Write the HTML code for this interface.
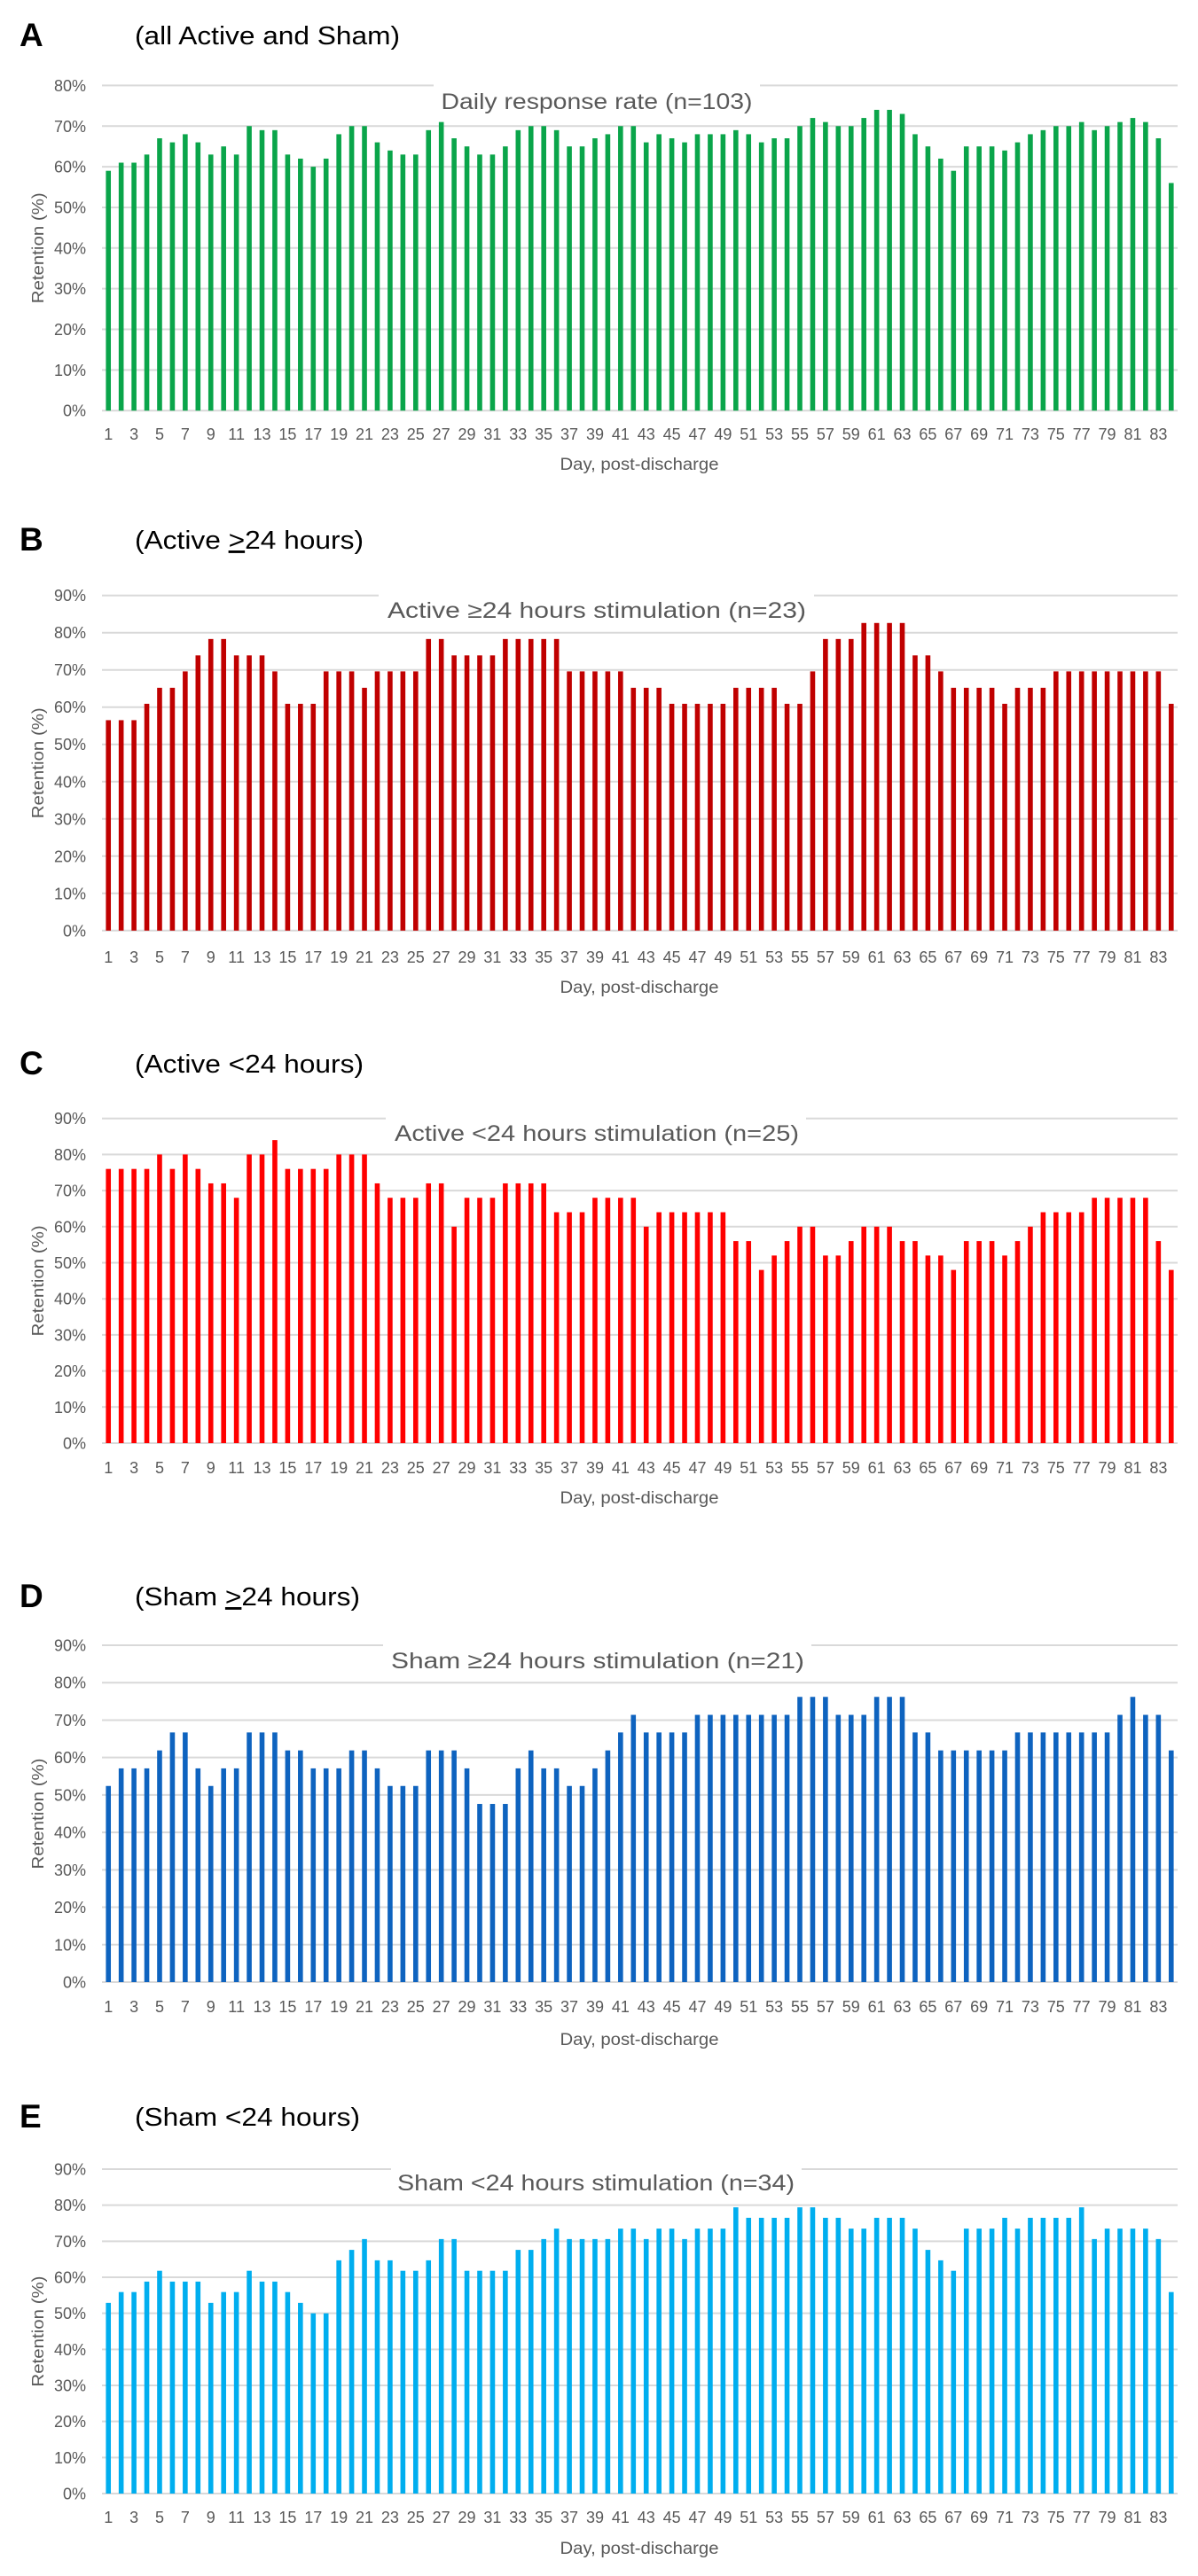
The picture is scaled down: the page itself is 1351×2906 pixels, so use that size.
<!DOCTYPE html>
<html><head><meta charset="utf-8">
<style>
html,body{margin:0;padding:0;background:#fff;}
svg{display:block;}
text{font-family:"Liberation Sans",sans-serif;}
</style></head>
<body>
<svg id="fig" width="1351" height="2906" viewBox="0 0 1351 2906" xmlns="http://www.w3.org/2000/svg"></svg>
<script>
// ---- data ----
const days = [1,2,3,4,5,6,7,8,9,10,11,12,13,14,15,16,17,18,19,20,21,22,23,24,25,26,27,28,29,30,31,32,33,34,35,36,37,38,39,40,41,42,43,44,45,46,47,48,49,50,51,52,53,54,55,56,57,58,59,60,61,62,63,64,65,66,67,68,69,70,71,72,73,74,75,76,77,78,79,80,81,82,83,84];
const xTickLabels = [1,3,5,7,9,11,13,15,17,19,21,23,25,27,29,31,33,35,37,39,41,43,45,47,49,51,53,55,57,59,61,63,65,67,69,71,73,75,77,79,81,83];
const yTicksA = [0,10,20,30,40,50,60,70,80];
const yTicksBE = [0,10,20,30,40,50,60,70,80,90];
const valuesAll = [59,61,61,63,67,66,68,66,63,65,63,70,69,69,63,62,60,62,68,70,70,66,64,63,63,69,71,67,65,63,63,65,69,70,70,69,65,65,67,68,70,70,66,68,67,66,68,68,68,69,68,66,67,67,70,72,71,70,70,72,74,74,73,68,65,62,59,65,65,65,64,66,68,69,70,70,71,69,70,71,72,71,67,56];
const valuesActiveLong = [56.5,56.5,56.5,60.9,65.2,65.2,69.6,73.9,78.3,78.3,73.9,73.9,73.9,69.6,60.9,60.9,60.9,69.6,69.6,69.6,65.2,69.6,69.6,69.6,69.6,78.3,78.3,73.9,73.9,73.9,73.9,78.3,78.3,78.3,78.3,78.3,69.6,69.6,69.6,69.6,69.6,65.2,65.2,65.2,60.9,60.9,60.9,60.9,60.9,65.2,65.2,65.2,65.2,60.9,60.9,69.6,78.3,78.3,78.3,82.6,82.6,82.6,82.6,73.9,73.9,69.6,65.2,65.2,65.2,65.2,60.9,65.2,65.2,65.2,69.6,69.6,69.6,69.6,69.6,69.6,69.6,69.6,69.6,60.9];
const valuesActiveShort = [76,76,76,76,80,76,80,76,72,72,68,80,80,84,76,76,76,76,80,80,80,72,68,68,68,72,72,60,68,68,68,72,72,72,72,64,64,64,68,68,68,68,60,64,64,64,64,64,64,56,56,48,52,56,60,60,52,52,56,60,60,60,56,56,52,52,48,56,56,56,52,56,60,64,64,64,64,68,68,68,68,68,56,48];
const valuesShamLong = [52.4,57.1,57.1,57.1,61.9,66.7,66.7,57.1,52.4,57.1,57.1,66.7,66.7,66.7,61.9,61.9,57.1,57.1,57.1,61.9,61.9,57.1,52.4,52.4,52.4,61.9,61.9,61.9,57.1,47.6,47.6,47.6,57.1,61.9,57.1,57.1,52.4,52.4,57.1,61.9,66.7,71.4,66.7,66.7,66.7,66.7,71.4,71.4,71.4,71.4,71.4,71.4,71.4,71.4,76.2,76.2,76.2,71.4,71.4,71.4,76.2,76.2,76.2,66.7,66.7,61.9,61.9,61.9,61.9,61.9,61.9,66.7,66.7,66.7,66.7,66.7,66.7,66.7,66.7,71.4,76.2,71.4,71.4,61.9];
const valuesShamShort = [52.9,55.9,55.9,58.8,61.8,58.8,58.8,58.8,52.9,55.9,55.9,61.8,58.8,58.8,55.9,52.9,50,50,64.7,67.6,70.6,64.7,64.7,61.8,61.8,64.7,70.6,70.6,61.8,61.8,61.8,61.8,67.6,67.6,70.6,73.5,70.6,70.6,70.6,70.6,73.5,73.5,70.6,73.5,73.5,70.6,73.5,73.5,73.5,79.4,76.5,76.5,76.5,76.5,79.4,79.4,76.5,76.5,73.5,73.5,76.5,76.5,76.5,73.5,67.6,64.7,61.8,73.5,73.5,73.5,76.5,73.5,76.5,76.5,76.5,76.5,79.4,70.6,73.5,73.5,73.5,73.5,70.6,55.9];

// ---- layout ----
const NS = "http://www.w3.org/2000/svg";
const svg = document.getElementById('fig');
const X0 = 115, X1 = 1328;
function mk(tag, attrs, parent){
  const e = document.createElementNS(NS, tag);
  for (const k in attrs) e.setAttribute(k, attrs[k]);
  (parent||svg).appendChild(e);
  return e;
}
const panels = [
  {key:'a', letter:'A', sub:['(all Active and Sham)'], subLen:299, labelY:39, top:96.4, bottom:463.2, maxV:80, ticks:yTicksA, vals:valuesAll, color:'#0aa54a',
   title:'Daily response rate (n=103)', tCx:673, tY:114, tLen:351, gap:[489,857], tickY:489, xtY:523},
  {key:'b', letter:'B', sub:['(Active ','>','24 hours)'], subLen:258, labelY:608, top:671.7, bottom:1049.8, maxV:90, ticks:yTicksBE, vals:valuesActiveLong, color:'#c00000',
   title:'Active \u226524 hours stimulation (n=23)', tCx:673, tY:688, tLen:472, gap:[427,918], tickY:1079, xtY:1113},
  {key:'c', letter:'C', sub:['(Active <24 hours)'], subLen:258, labelY:1199, top:1261.7, bottom:1628, maxV:90, ticks:yTicksBE, vals:valuesActiveShort, color:'#ff0000',
   title:'Active <24 hours stimulation (n=25)', tCx:673, tY:1278, tLen:456, gap:[435,909], tickY:1655, xtY:1689},
  {key:'d', letter:'D', sub:['(Sham ','>','24 hours)'], subLen:254, labelY:1800, top:1856, bottom:2236, maxV:90, ticks:yTicksBE, vals:valuesShamLong, color:'#0e63bf',
   title:'Sham \u226524 hours stimulation (n=21)', tCx:674, tY:1873, tLen:466, gap:[432,915], tickY:2263, xtY:2300},
  {key:'e', letter:'E', sub:['(Sham <24 hours)'], subLen:254, labelY:2387, top:2447, bottom:2813, maxV:90, ticks:yTicksBE, vals:valuesShamShort, color:'#00aeef',
   title:'Sham <24 hours stimulation (n=34)', tCx:672, tY:2462, tLen:448, gap:[441,904], tickY:2839, xtY:2874}
];

panels.forEach(p => {
  const g = mk('g', {});
  
  
  const yScale = v => p.bottom - (v / p.maxV) * (p.bottom - p.top);
  const step = (X1 - X0) / days.length;
  const xCenter = i => X0 + (i + 0.5) * step;

  // panel letter
  const L = mk('text', {x:22, y:p.labelY + 13, 'font-size':37, 'font-weight':'bold', fill:'#000'}, g);
  L.textContent = p.letter;
  
  

  // subtitle
  const S = mk('text', {x:152, y:p.labelY + 11, 'font-size':29, fill:'#000', textLength:p.subLen, lengthAdjust:'spacingAndGlyphs'}, g);
  
  
  p.sub.forEach((s, k) => {
    const t = mk('tspan', {}, S);
    t.textContent = s;
    if (p.sub.length === 3 && k === 1) t.setAttribute('text-decoration', 'underline');
  });

  // gridlines + y ticks
  p.ticks.forEach(v => {
    const y = yScale(v);
    const gl = mk('line', {x1:X0, x2:X1, y1:y, y2:y, stroke:'#d9d9d9', 'stroke-width':2}, g);
    
    
    const tl = mk('text', {x:97, y:y + 6.5, 'font-size':18, fill:'#595959', 'text-anchor':'end'}, g);
    tl.textContent = v + '%';
    
    
  });

  // chart title with white backing over the top gridline
  mk('rect', {x:p.gap[0], y:p.top - 4, width:p.gap[1] - p.gap[0], height:8, fill:'#fff'}, g);
  const T = mk('text', {x:p.tCx, y:p.tY + 9, 'font-size':25, fill:'#595959', 'text-anchor':'middle', textLength:p.tLen, lengthAdjust:'spacingAndGlyphs'}, g);
  T.textContent = p.title;
  
  

  // bars
  p.vals.forEach((v, i) => {
    const y = yScale(v);
    const b = mk('rect', {x:xCenter(i) - 2.8, y:y, width:5.6, height:p.bottom - y, fill:p.color}, g);
    
    
  });

  // x tick labels
  xTickLabels.forEach(d => {
    const i = days.indexOf(d);
    const t = mk('text', {x:xCenter(i), y:p.tickY + 7, 'font-size':18, fill:'#595959', 'text-anchor':'middle'}, g);
    t.textContent = d;
    
    
  });

  // axis titles
  const xt = mk('text', {x:721, y:p.xtY + 7, 'font-size':19, fill:'#595959', 'text-anchor':'middle', textLength:179, lengthAdjust:'spacingAndGlyphs'}, g);
  xt.textContent = 'Day, post-discharge';
  
  
  const cy = (p.top + p.bottom) / 2;
  const yt = mk('text', {x:0, y:0, 'font-size':18, fill:'#595959', 'text-anchor':'middle', textLength:125, lengthAdjust:'spacingAndGlyphs',
    transform:'translate(49,' + cy + ') rotate(-90)'}, g);
  yt.textContent = 'Retention (%)';
  
  
});
</script>
</body></html>
